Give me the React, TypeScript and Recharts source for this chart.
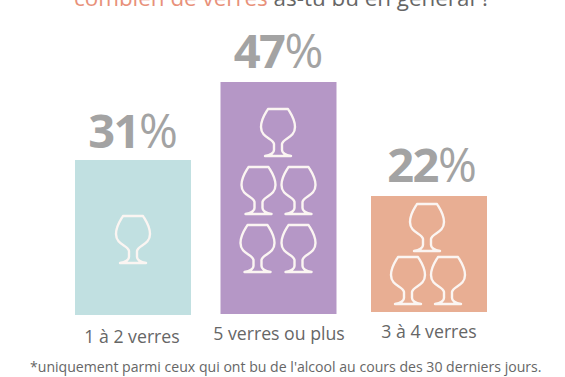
import React from "react";
import { BarChart, Bar, XAxis, YAxis, LabelList, Rectangle } from "recharts";

const categories = ["1 à 2 verres", "5 verres ou plus", "3 à 4 verres"];
const percents = [31, 47, 22];
const barBases = [0, 0.2, 0.6];
const barTops = [31, 46.6, 23.8];
const titleAccent = "combien de verres";
const titleRest = " as-tu bu en général ?";
const footnote = "*uniquement parmi ceux qui ont bu de l'alcool au cours des 30 derniers jours.";

const data = categories.map((name, i) => ({
  name,
  pct: percents[i],
  range: [barBases[i], barTops[i]],
}));

const FONT = "'Open Sans', sans-serif";
const barColors = ["#c1e0e1", "#b597c6", "#e8ae93"];
const barShift = [0, -2.5, 0];
const tickShift = [-1, -2, 0];
const tickBaseline = [343, 340, 338];
const labelShift = [0, 0, 3];
const labelBaseline = [148, 68, 182];
// Icon offsets from each bar's left and top edge: [centre x, top y]
const glassLayout: number[][][] = [
  [[58, 56]],
  [[57.5, 27], [38, 85], [78, 85], [37, 143], [78, 143]],
  [[56, 8], [37, 61], [77, 61]],
];

const GLASS =
  "M-10 0 L10 0 C13 5 17 10 17 18 C17 29 5 29 4 35 L4 41 C4 44 8 46 13 47 L-13 47 C-8 46 -4 44 -4 41 L-4 35 C-5 29 -17 29 -17 18 C-17 10 -13 5 -10 0 Z";

function BarShape(props: any) {
  const { x, y, width, height, index } = props;
  const left = x + barShift[index];
  return (
    <g>
      <Rectangle x={left} y={y} width={width} height={height} fill={barColors[index]} />
      {glassLayout[index].map(([gx, gy], i) => (
        <path
          key={i}
          d={GLASS}
          transform={`translate(${left + gx} ${y + gy})`}
          fill="none"
          stroke="#fbf5f2"
          strokeWidth={2.4}
          strokeLinejoin="round"
        />
      ))}
    </g>
  );
}

function PctLabel(props: any) {
  const { x, width, value, index } = props;
  return (
    <text
      x={x + width / 2 + barShift[index] + labelShift[index]}
      y={labelBaseline[index]}
      textAnchor="middle"
      fill="#a3a3a3"
      fontFamily={FONT}
      fontSize={47}
    >
      <tspan fontWeight={700} letterSpacing={-1.5}>{value}</tspan>
      <tspan fontWeight={400}>%</tspan>
    </text>
  );
}

function CatTick(props: any) {
  const { x, payload, index } = props;
  return (
    <text
      x={x + tickShift[index]}
      y={tickBaseline[index]}
      textAnchor="middle"
      fill="#666666"
      fontFamily={FONT}
      fontSize={17.7}
    >
      {payload.value}
    </text>
  );
}

export default function App() {
  return (
    <div style={{ position: "absolute", left: 0, top: 0, width: 565, height: 377, overflow: "hidden", background: "#fff", fontFamily: FONT }}>
      <BarChart
        width={565}
        height={377}
        data={data}
        margin={{ top: 0, right: 62, bottom: 0, left: 59 }}
        barCategoryGap={32}
      >
        <XAxis dataKey="name" height={62} axisLine={false} tickLine={false} interval={0} tick={<CatTick />} padding={{ left: 0, right: 0 }} />
        <YAxis hide domain={[0, 63]} />
        <Bar dataKey="range" barSize={116} isAnimationActive={false} shape={<BarShape />}>
          <LabelList dataKey="pct" content={<PctLabel />} />
        </Bar>
      </BarChart>
      <div style={{ position: "absolute", left: 74, top: -18, fontSize: 22.4, lineHeight: "32px", whiteSpace: "nowrap", fontWeight: 400, color: "#666" }}>
        <span style={{ color: "#e8917a" }}>{titleAccent}</span>
        {titleRest}
      </div>
      <div style={{ position: "absolute", left: 30, top: 358, fontSize: 14.1, lineHeight: "18px", whiteSpace: "nowrap", color: "#666" }}>
        {footnote}
      </div>
    </div>
  );
}
